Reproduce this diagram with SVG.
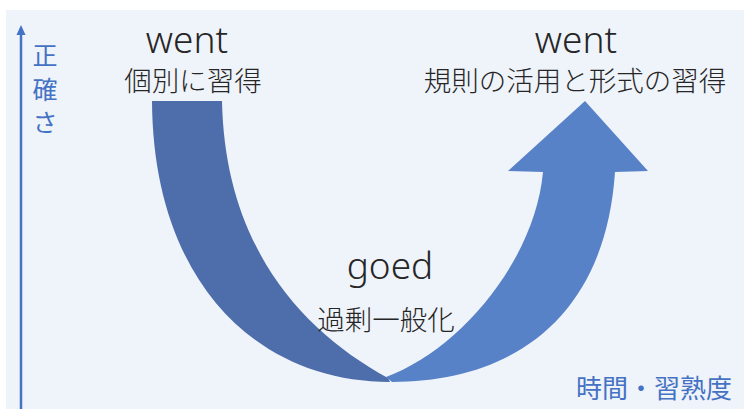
<svg xmlns="http://www.w3.org/2000/svg" width="744" height="409" viewBox="0 0 744 409">
<defs>
<style>
.lat{font-family:"Noto Sans","Liberation Sans",sans-serif;fill:#262626;font-size:37px;font-weight:300;text-anchor:middle}
.jp{font-family:"Noto Sans CJK JP","Noto Sans",sans-serif;fill:#262626;font-size:27.5px;font-weight:300;text-anchor:middle}
.ax{font-family:"Noto Sans CJK JP","Noto Sans",sans-serif;fill:#4472C4;font-size:25px;font-weight:400;text-anchor:middle}
</style>
</defs>
<rect x="0" y="0" width="744" height="409" fill="#ffffff"/>
<rect x="6" y="10" width="738" height="399" fill="#EFF3FA"/>
<g id="axis-y">
<line x1="21" y1="32" x2="21" y2="409" stroke="#4472C4" stroke-width="2.5"/>
<polygon points="21,25 16.5,35 25.5,35" fill="#4472C4"/>
<text class="ax" x="45" y="65">正</text>
<text class="ax" x="45" y="99">確</text>
<text class="ax" x="45" y="132">さ</text>
</g>
<g id="axis-x">
<text class="ax" x="654" y="398" style="font-size:26px">時間・習熟度</text>
</g>
<g id="connectors">
<path id="down-band" d="M152,101 L222,101 C225,245 300,330 388,378 L390,382 C255,382 153,280 152,101 Z" fill="#4D6EAB"/>
<path id="up-arrow" d="M386,377 C460,350 535,260 543,172 L508,171 L585,101 L648,171 L615,172 C605,320 510,382 392,382 Z" fill="#5882C8"/>
</g>
<g id="node-went-left">
<text class="lat" x="187" y="53">went</text>
<text class="jp" x="193" y="91">個別に習得</text>
</g>
<g id="node-went-right">
<text class="lat" x="576" y="53">went</text>
<text class="jp" x="575" y="91">規則の活用と形式の習得</text>
</g>
<g id="node-goed">
<text class="lat" x="390" y="279">goed</text>
<text class="jp" x="386" y="330">過剰一般化</text>
</g>
</svg>
